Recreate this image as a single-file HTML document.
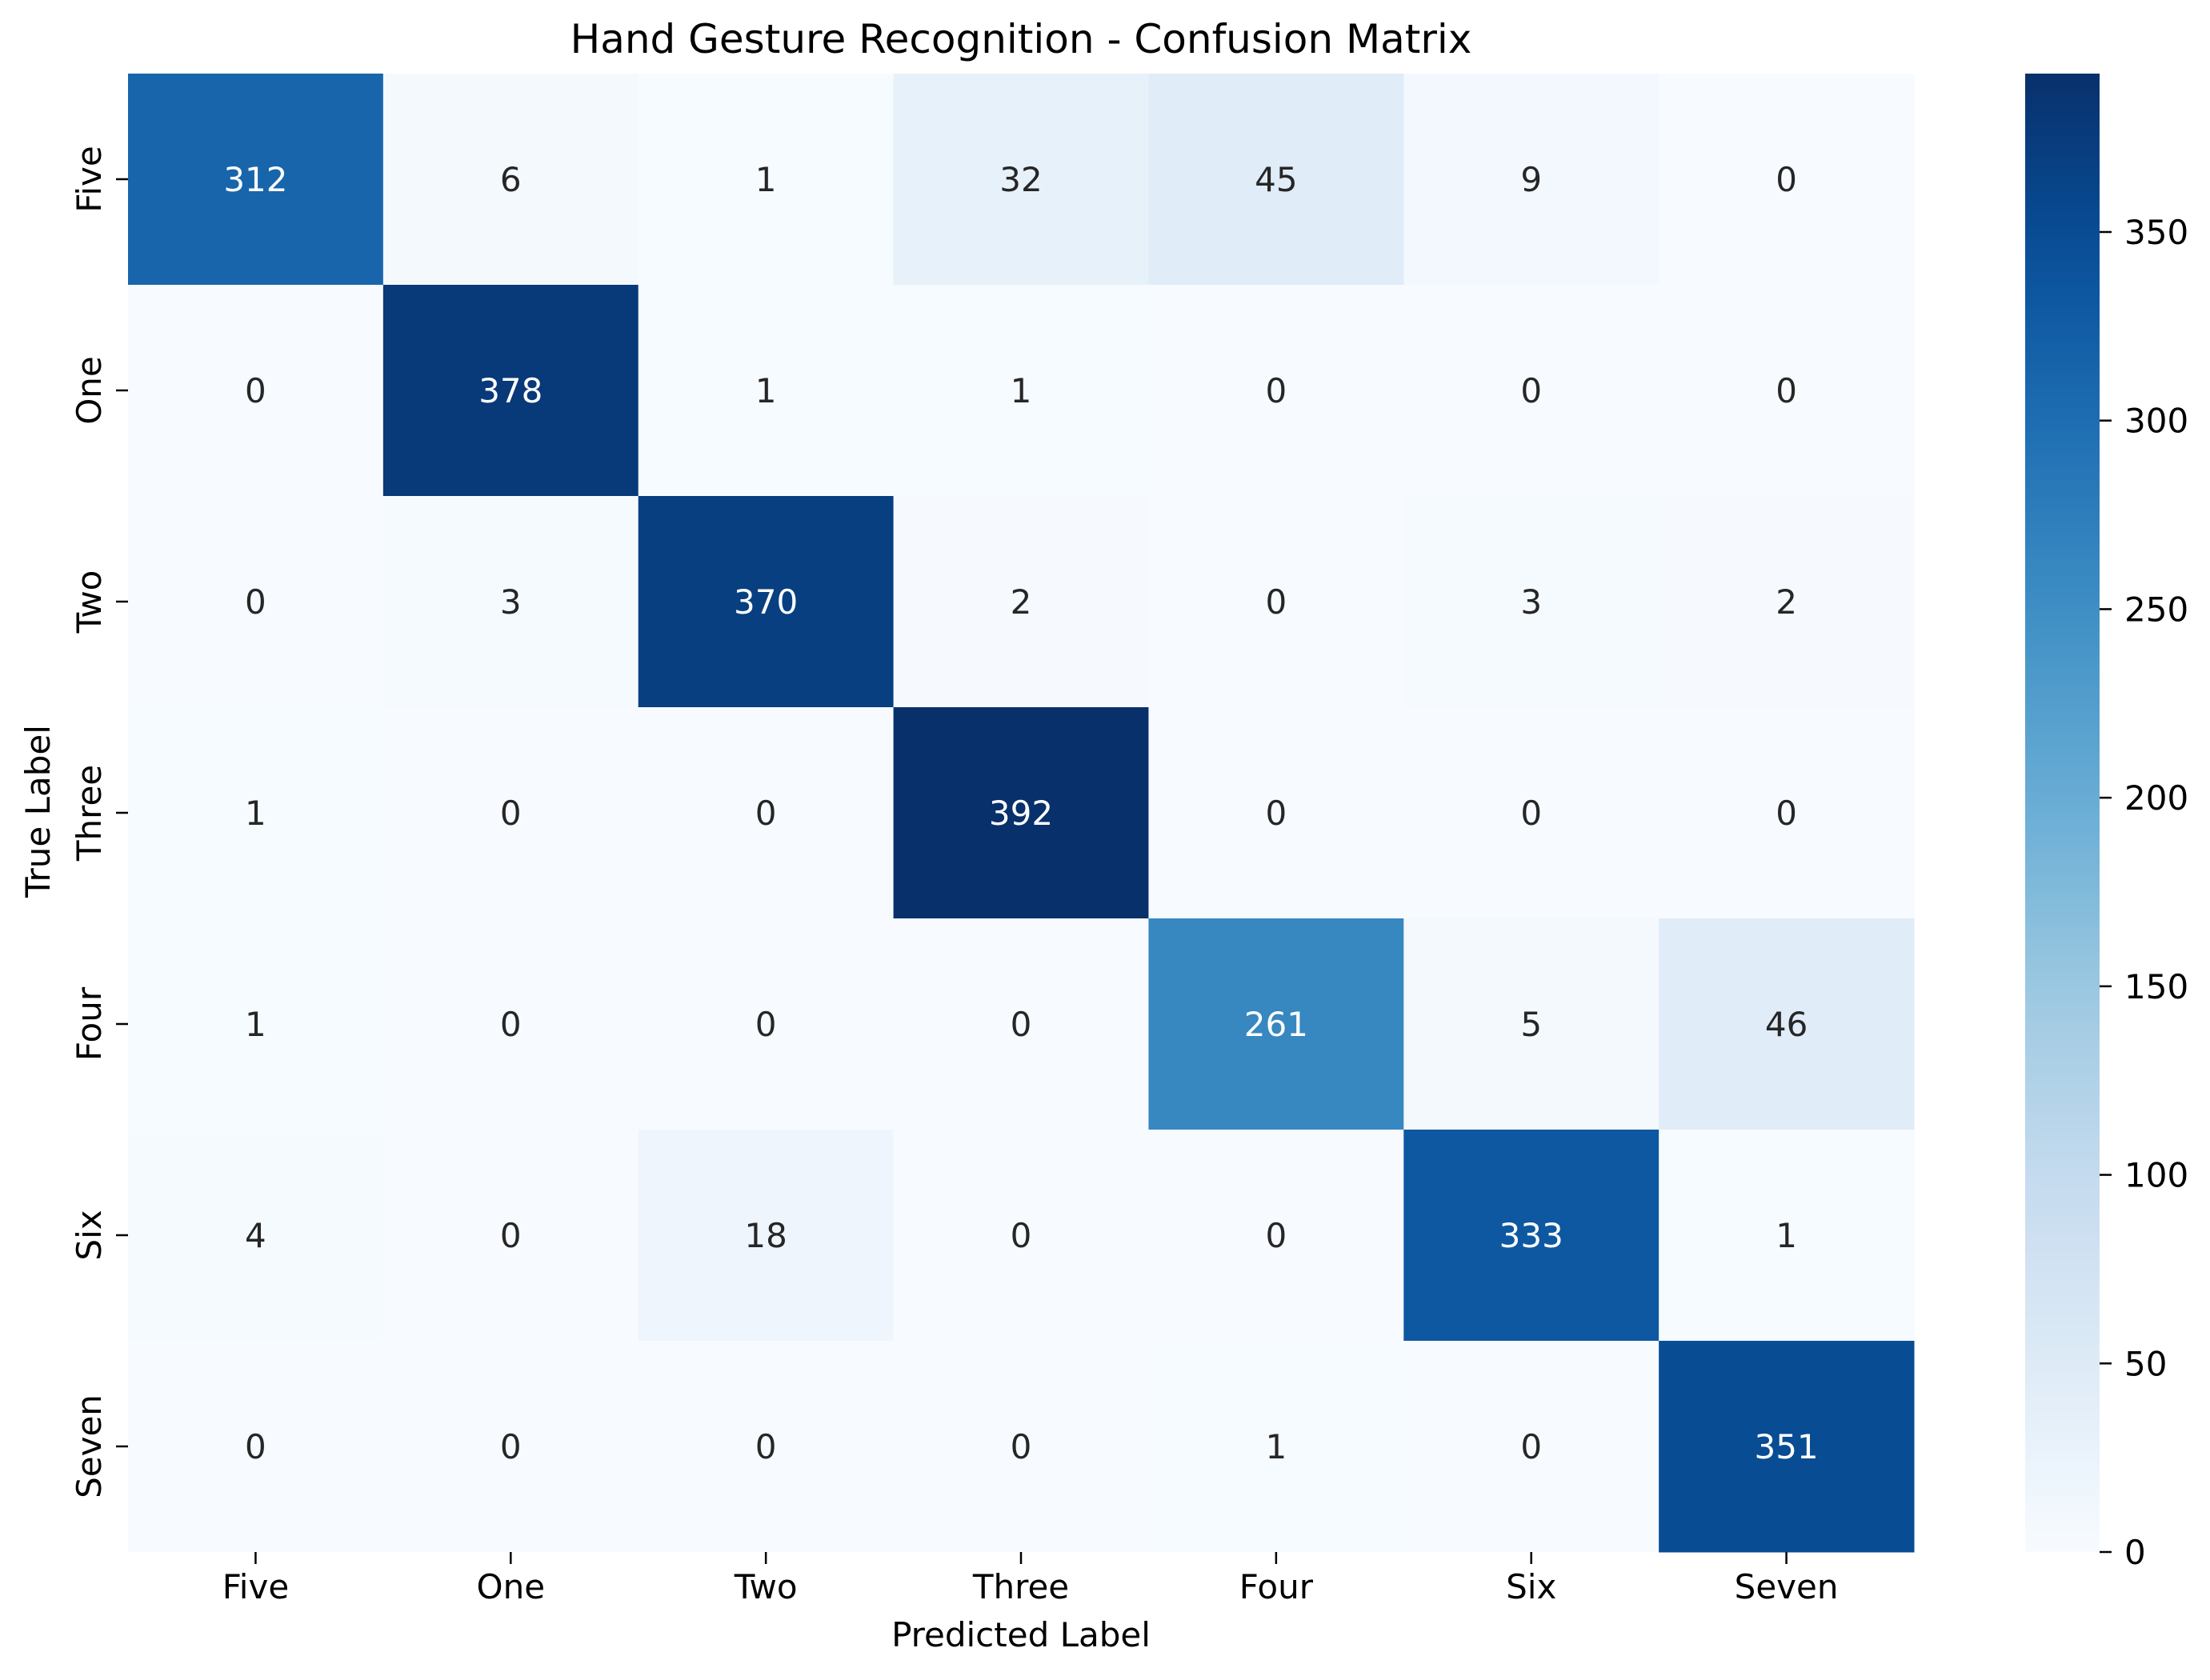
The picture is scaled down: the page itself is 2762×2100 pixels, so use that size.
<!DOCTYPE html>
<html><head><meta charset="utf-8"><style>
html,body{margin:0;padding:0;background:#fff}
svg{display:block;font-family:"DejaVu Sans","Liberation Sans",sans-serif}
</style></head><body>
<svg id="chart" width="2762" height="2100" viewBox="0 0 2762 2100" xmlns="http://www.w3.org/2000/svg">
<text x="1276" y="66" font-size="50" text-anchor="middle" fill="#000">Hand Gesture Recognition - Confusion Matrix</text>
<text x="1276" y="2058" font-size="42" text-anchor="middle" fill="#000">Predicted Label</text>
<text x="0" y="0" font-size="42" text-anchor="middle" fill="#000" transform="translate(62,1014) rotate(-90)">True Label</text>
<g id="cells"></g>
<g id="xticks"></g>
<g id="yticks"></g>
<defs><linearGradient id="cbgrad" x1="0" y1="1" x2="0" y2="0"></linearGradient></defs>
<rect x="2531" y="92" width="93" height="1848" fill="url(#cbgrad)"/>
<g id="cbticks"></g>
</svg>
<script>
const categories = ["Five","One","Two","Three","Four","Six","Seven"];
const row0 = [312,6,1,32,45,9,0];
const row1 = [0,378,1,1,0,0,0];
const row2 = [0,3,370,2,0,3,2];
const row3 = [1,0,0,392,0,0,0];
const row4 = [1,0,0,0,261,5,46];
const row5 = [4,0,18,0,0,333,1];
const row6 = [0,0,0,0,1,0,351];
const matrix = [row0,row1,row2,row3,row4,row5,row6];
const cbTicks = [0,50,100,150,200,250,300,350];

const NS="http://www.w3.org/2000/svg";
const L=160,R=2392,T=92,B=1940;
const n=categories.length;
const cw=(R-L)/n, ch=(B-T)/n;
let vmax=0; matrix.forEach(r=>r.forEach(v=>{if(v>vmax)vmax=v;}));
const stops=["#f7fbff","#deebf7","#c6dbef","#9ecae1","#6baed6","#4292c6","#2171b5","#08519c","#08306b"];
function hex(h){return [1,3,5].map(i=>parseInt(h.substr(i,2),16));}
function cmap(t){t=Math.max(0,Math.min(1,t));const p=t*8;const i=Math.min(7,Math.floor(p));const f=p-i;
 const a=hex(stops[i]),b=hex(stops[i+1]);const c=a.map((x,k)=>Math.round(x+(b[k]-x)*f));return c;}
function lin(u){u/=255;return u<=0.03928?u/12.92:Math.pow((u+0.055)/1.055,2.4);}
function xPos(j){return L+j*cw;}
function yPos(i){return T+i*ch;}
function mk(tag,attrs,parent){const e=document.createElementNS(NS,tag);for(const k in attrs)e.setAttribute(k,attrs[k]);parent.appendChild(e);return e;}
const cells=document.getElementById('cells');
matrix.forEach((row,i)=>row.forEach((v,j)=>{
 const c=cmap(v/vmax);
 const r=mk('rect',{x:xPos(j),y:yPos(i),width:cw+0.5,height:ch+0.5,fill:`rgb(${c.join(',')})`},cells);
 
 
 const lum=0.2126*lin(c[0])+0.7152*lin(c[1])+0.0722*lin(c[2]);
 const t=mk('text',{x:xPos(j)+cw/2,y:yPos(i)+ch/2+15,'font-size':42,'text-anchor':'middle',fill:lum>0.408?'#262626':'#ffffff'},cells);
 
 
 t.textContent=v;
}));
const xt=document.getElementById('xticks'), yt=document.getElementById('yticks');
categories.forEach((c,j)=>{
 const cx=xPos(j)+cw/2;
 mk('line',{x1:cx,x2:cx,y1:B,y2:B+15,stroke:'#000','stroke-width':2.5},xt);
 const t=mk('text',{x:cx,y:B+58,'font-size':42,'text-anchor':'middle',fill:'#000'},xt);
 
 
 t.textContent=c;
 const cy=yPos(j)+ch/2;
 mk('line',{x1:L-15,x2:L,y1:cy,y2:cy,stroke:'#000','stroke-width':2.5},yt);
 const u=mk('text',{x:0,y:0,'font-size':42,'text-anchor':'middle',fill:'#000',transform:`translate(126,${cy}) rotate(-90)`},yt);
 
 
 u.textContent=c;
});
const g=document.getElementById('cbgrad');
for(let k=0;k<=20;k++){const c=cmap(k/20);mk('stop',{offset:k/20,'stop-color':`rgb(${c.join(',')})`},g);}
const cbT=document.getElementById('cbticks');
cbTicks.forEach(v=>{
 const y=B-(v/vmax)*(B-T);
 mk('line',{x1:2624,x2:2639,y1:y,y2:y,stroke:'#000','stroke-width':2.5},cbT);
 const t=mk('text',{x:2655,y:y+15,'font-size':42,fill:'#000'},cbT);
 
 
 t.textContent=v;
});
</script>
</body></html>
